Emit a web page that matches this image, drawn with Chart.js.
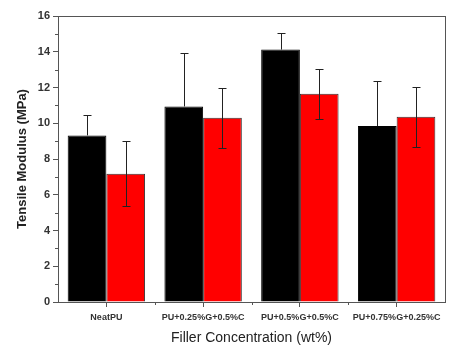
<!DOCTYPE html>
<html>
<head>
<meta charset="utf-8">
<script src="https://cdn.jsdelivr.net/npm/chart.js@4/dist/chart.umd.min.js"></script>
<style>
  html, body { margin: 0; padding: 0; background: #fff; }
  #wrap { width: 458px; height: 351px; position: relative; }
</style>
</head>
<body>
<div id="wrap"><canvas id="chart"></canvas></div>
<script>
var categories = ['NeatPU', 'PU+0.25%G+0.5%C', 'PU+0.5%G+0.5%C', 'PU+0.75%G+0.25%C'];
var blackValues = [9.32, 10.94, 14.12, 9.84];
var blackErrors = [1.12, 2.98, 0.92, 2.50];
var redValues   = [7.18, 10.31, 11.65, 10.36];
var redErrors   = [1.82, 1.67, 1.40, 1.67];
var yTicks      = [0, 2, 4, 6, 8, 10, 12, 14, 16];

var axisColor = '#555';
var textColor = '#333';

// frame, minor ticks and error bars drawn on top of the bars
var extrasPlugin = {
  id: 'extras',
  afterDatasetsDraw: function(chart) {
    var ctx = chart.ctx;
    var yScale = chart.scales.y;
    var errs = [blackErrors, redErrors];

    ctx.save();
    ctx.strokeStyle = '#222';
    ctx.lineWidth = 1;
    chart.data.datasets.forEach(function(ds, di) {
      var meta = chart.getDatasetMeta(di);
      meta.data.forEach(function(bar, i) {
        var v = ds.data[i], e = errs[di][i];
        var x = Math.round(bar.x) + 0.5;
        var yTop = Math.round(yScale.getPixelForValue(v + e)) + 0.5;
        ctx.beginPath();
        ctx.moveTo(x - 4, yTop);
        ctx.lineTo(x + 4, yTop);
        if (di === 0) {
          // lower half is hidden inside the black bar
          ctx.moveTo(x, yTop);
          ctx.lineTo(x, bar.y);
        } else {
          var yBot = Math.round(yScale.getPixelForValue(v - e)) + 0.5;
          ctx.moveTo(x, yTop);
          ctx.lineTo(x, yBot);
          ctx.moveTo(x - 4, yBot);
          ctx.lineTo(x + 4, yBot);
        }
        ctx.stroke();
      });
    });
    ctx.restore();
  },
  afterDraw: function(chart) {
    var ctx = chart.ctx;
    var a = chart.chartArea;
    var yScale = chart.scales.y;
    var xScale = chart.scales.x;

    ctx.save();
    ctx.strokeStyle = axisColor;
    ctx.lineWidth = 1;
    ctx.strokeRect(Math.round(a.left) + 0.5, Math.round(a.top) + 0.5,
                   Math.round(a.right - a.left), Math.round(a.bottom - a.top));

    ctx.beginPath();
    // minor y ticks at odd values
    for (var v = 1; v < 16; v += 2) {
      var py = Math.round(yScale.getPixelForValue(v)) + 0.5;
      ctx.moveTo(a.left - 3, py);
      ctx.lineTo(a.left, py);
    }
    // minor x ticks between categories
    for (var i = 0; i < categories.length - 1; i++) {
      var px = Math.round((xScale.getPixelForValue(i) + xScale.getPixelForValue(i + 1)) / 2) + 0.5;
      ctx.moveTo(px, a.bottom);
      ctx.lineTo(px, a.bottom + 3);
    }
    ctx.stroke();
    ctx.restore();
  }
};

new Chart(document.getElementById('chart'), {
  type: 'bar',
  data: {
    labels: categories,
    datasets: [
      { label: 'A', data: blackValues, backgroundColor: '#000', borderColor: '#000', borderWidth: 1 },
      { label: 'B', data: redValues,   backgroundColor: '#ff0000', borderColor: '#333', borderWidth: 1 }
    ]
  },
  options: {
    responsive: true,
    maintainAspectRatio: false,
    animation: false,
    devicePixelRatio: 1,
    layout: { padding: { top: 16, right: 13, left: 0, bottom: 0 } },
    plugins: { legend: { display: false }, tooltip: { enabled: false } },
    datasets: { bar: { categoryPercentage: 0.8, barPercentage: 1.0 } },
    scales: {
      x: {
        offset: true,
        grid: { drawOnChartArea: false, offset: false, tickLength: 5, tickColor: axisColor },
        border: { color: axisColor },
        ticks: { color: textColor, font: { family: 'Liberation Sans, Arial', size: 9, weight: 'bold' }, padding: 5, maxRotation: 0, autoSkip: false },
        title: { display: true, text: 'Filler Concentration (wt%)', color: '#222',
                 font: { family: 'Liberation Sans, Arial', size: 14 }, padding: { top: 10, bottom: 4 } },
        afterFit: function(s) { s.height = 49; }
      },
      y: {
        min: 0, max: 16,
        afterBuildTicks: function(s) { s.ticks = yTicks.map(function(v) { return { value: v }; }); },
        grid: { drawOnChartArea: false, tickLength: 5, tickColor: axisColor },
        border: { color: axisColor },
        ticks: { color: textColor, font: { family: 'Liberation Sans, Arial', size: 11, weight: 'bold' }, padding: 3 },
        title: { display: true, text: 'Tensile Modulus (MPa)', color: '#222',
                 font: { family: 'Liberation Sans, Arial', size: 13, weight: 'bold' }, padding: { top: 15, bottom: 0 } },
        afterFit: function(s) { s.width = 58; }
      }
    }
  },
  plugins: [extrasPlugin]
});
</script>
</body>
</html>
